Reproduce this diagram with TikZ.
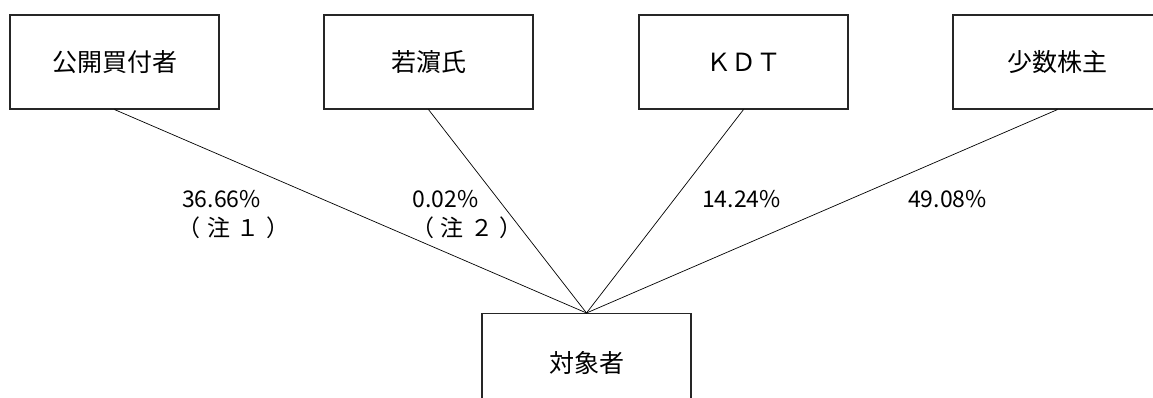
\documentclass[tikz,border=0pt]{standalone}
\usepackage{fontspec}
\setmainfont{Noto Sans CJK JP}
\begin{document}
\begin{tikzpicture}[x=1pt,y=-1pt,
  boxnode/.style={draw=black!85,line width=1.1pt,rectangle,minimum width=209pt,minimum height=94pt,inner sep=0pt,font=\fontsize{25}{28}\selectfont},
  lab/.style={inner sep=0pt,font=\fontsize{23}{26}\selectfont},
  note/.style={inner sep=0pt,font=\fontsize{23}{26}\selectfont\addfontfeature{LetterSpace=28}},
  link/.style={draw=black,line width=0.7pt}]
\clip (0,0) rectangle (1153,398);
\node[boxnode] (a) at (114.5,62) {公開買付者};
\node[boxnode] (b) at (428.5,62) {若濵氏};
\node[boxnode] (c) at (743.5,62) {ＫＤＴ};
\node[boxnode] (d) at (1057.5,62) {少数株主};
\node[boxnode,anchor=north] (t) at (586.5,313) {};
\node[inner sep=0pt,font=\fontsize{25}{28}\selectfont] (tt) at (586.5,363) {対象者};
\draw[link] (a.south) -- (t.north);
\draw[link] (b.south) -- (t.north);
\draw[link] (c.south) -- (t.north);
\draw[link] (d.south) -- (t.north);
\node[lab] (l1) at (221.5,199) {36.66\%};
\node[note] (n1) at (233.5,228) {（注１）};
\node[lab] (l2) at (445.5,199) {0.02\%};
\node[note] (n2) at (467,228) {（注２）};
\node[lab] (l3) at (741.5,199) {14.24\%};
\node[lab] (l4) at (947.5,199) {49.08\%};
\end{tikzpicture}
\end{document}
